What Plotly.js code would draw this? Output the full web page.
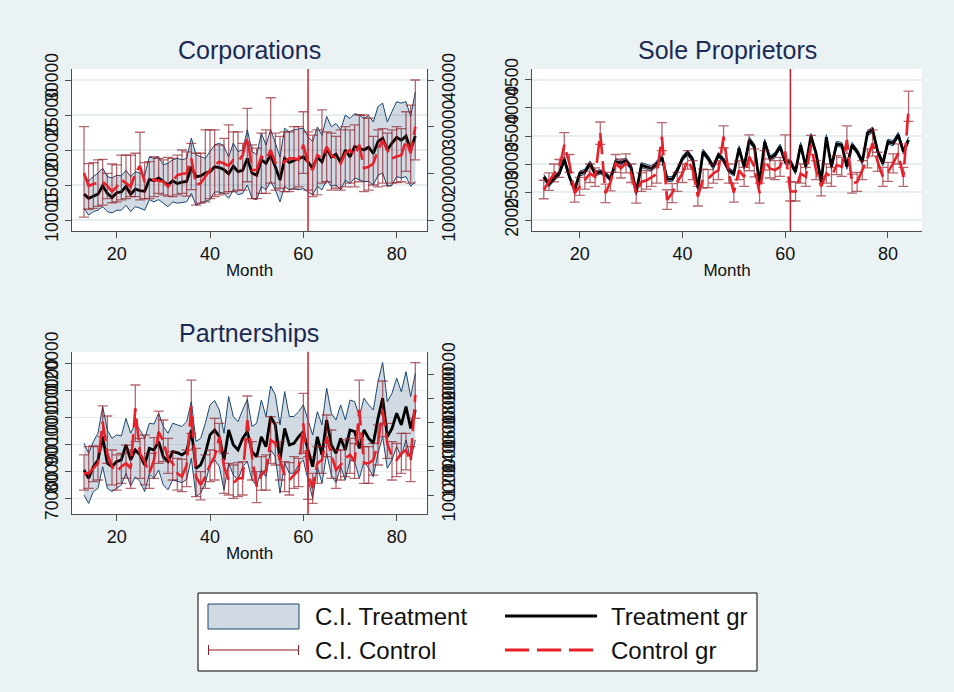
<!DOCTYPE html>
<html><head><meta charset="utf-8">
<script src="https://cdn.plot.ly/plotly-3.0.1.min.js"></script>
<style>html,body{margin:0;padding:0;background:#EAF2F3;}#chart{width:954px;height:692px;}</style>
</head><body><div id="chart"></div>
<script>
// ---------- DATA ----------
const months = [13,14,15,16,17,18,19,20,21,22,23,24,
  25,26,27,28,29,30,31,32,33,34,35,36,
  37,38,39,40,41,42,43,44,45,46,47,48,
  49,50,51,52,53,54,55,56,57,58,59,60,
  61,62,63,64,65,66,67,68,69,70,71,72,
  73,74,75,76,77,78,79,80,81,82,83,84];
const xTicks = [20,40,60,80];
const treatmentStart = 61;

// Corporations (treatment on left axis, control on right axis)
const corpTreat = [13700,13100,13400,13700,14900,13800,13200,13900,14000,14800,13700,14400,
  14200,14100,15800,15600,16000,15500,15000,15600,15200,15400,15500,17600,
  16200,16300,16700,16900,17600,17500,17200,16600,17700,16900,17100,18800,
  16700,16400,18600,18100,19300,17600,15700,18800,18200,18500,18700,19000,
  18300,17400,19000,18300,20200,19000,19400,18200,20000,19000,20500,20200,
  20000,20400,19500,21200,21700,20000,21000,21800,21400,22000,20000,22000];
const corpTreatHi = [16400,15600,16200,16700,17400,16200,16000,16400,16300,17100,16200,16900,
  16700,16400,19000,18800,19000,17900,18100,18600,18800,18600,18800,21700,
  19300,19000,18800,19800,20700,21000,20500,19000,21000,19800,20000,22900,
  19800,19300,22400,20700,22900,21000,19000,23100,22600,22900,23000,23100,
  21900,21200,23300,22100,24800,23300,23800,22900,25000,24500,25200,25000,
  24500,24900,24000,26200,26700,24000,25500,26900,26700,26900,24800,28300];
const corpTreatLo = [11700,10700,11200,11400,11900,11200,11000,11400,11400,12100,11200,11900,
  11700,11400,12900,12600,12900,12400,11900,12600,12400,12500,12600,13800,
  12100,12400,12600,12900,14000,14000,13800,13100,14300,13600,13800,15000,
  13100,12900,14800,14300,15500,14300,12600,14800,14300,14500,14300,14500,
  14000,13600,14800,14300,15700,14800,15000,14300,15700,15200,16000,15700,
  15500,15500,15000,16400,16700,14800,15000,16200,16000,16200,14800,15500];
const corpCtrl = [20100,17300,17700,17900,18200,17300,16100,17100,18600,17900,17100,20000,
  21600,18200,18600,18600,18400,18200,17100,18400,19600,19900,20000,23200,
  17500,17900,19300,20700,21800,22500,22100,21600,22900,22500,23900,27900,
  20700,20700,23600,22900,25000,22300,21800,22500,23200,23200,22900,26100,
  22100,20700,23900,23200,25700,23900,23200,22100,24300,25000,23900,26100,
  21100,21400,22100,25000,27100,25000,23200,23600,23900,27100,24300,30000];
const corpCtrlHi = [30000,22100,22300,22900,23000,20000,22000,21800,23900,23900,23900,24300,
  28800,22300,22500,23600,23200,22900,23400,23200,23900,25000,24600,26400,
  24300,24300,29300,29300,29300,26100,27500,30400,28900,28900,26400,33900,
  26100,25400,28600,29300,36200,28600,27900,28900,28900,30000,30000,33200,
  28900,28200,29300,33600,28900,28600,27900,29300,30000,29300,30400,32500,
  32500,31800,27900,29300,29600,28600,29300,30000,29600,33200,34600,40000];
const corpCtrlLo = [10600,12300,12500,12900,13200,14600,13700,13900,14300,14600,15000,15000,
  14300,14600,14600,15000,15700,15400,15100,15000,15400,15700,15100,16500,
  13200,13600,13900,14600,15000,15400,15700,16100,16100,16400,16400,18200,
  14600,14600,15700,15700,17900,16400,16800,16100,16100,16600,17100,20000,
  16400,15000,15400,17900,18200,16400,16800,16400,17100,17900,17100,18200,
  16100,16400,17500,17100,17900,17300,17900,18000,18200,20400,17900,22900];
const corpLeftTicks = [10000,15000,20000,25000,30000];
const corpRightTicks = [10000,20000,30000,40000];

// Sole Proprietors
const soleTreat = [2770,2640,2740,2830,3080,2770,2540,2830,2860,3010,2830,2860,
  2820,2730,3040,3020,3060,2940,2490,2980,2950,2920,3010,3120,
  2730,2730,2890,3100,3200,3080,2570,3220,3100,2950,3160,3070,
  2890,2830,3280,2950,3430,3310,2650,3400,3100,3160,3310,3040,
  3040,2860,3340,2950,3500,3190,2680,3480,2950,3360,3340,2950,
  3340,3220,3040,3550,3610,3220,3010,3400,3370,3520,3220,3430];
const soleTreatHi = [2815,2685,2785,2875,3130,2815,2585,2875,2905,3055,2875,2900,
  2865,2775,3085,3065,3105,2985,2535,3025,2995,2965,3055,3170,
  2775,2775,2935,3145,3245,3125,2615,3265,3145,2995,3205,3115,
  2935,2875,3325,2995,3480,3355,2695,3445,3145,3205,3355,3085,
  3085,2905,3385,2995,3545,3235,2725,3525,2995,3405,3385,2995,
  3385,3265,3085,3595,3660,3265,3055,3445,3415,3565,3265,3480];
const soleTreatLo = [2725,2595,2695,2785,3030,2725,2495,2785,2815,2965,2785,2820,
  2775,2685,2995,2975,3015,2895,2445,2935,2905,2875,2965,3070,
  2685,2685,2845,3055,3155,3035,2525,3175,3055,2905,3115,3025,
  2845,2785,3235,2905,3380,3265,2605,3355,3055,3115,3265,2995,
  2995,2815,3295,2905,3455,3145,2635,3435,2905,3315,3295,2905,
  3295,3175,2995,3505,3560,3175,2965,3355,3325,3475,3175,3380];
const soleCtrl = [2540,2680,2830,2920,3340,3010,2480,2600,2710,2830,2770,3550,
  2480,2680,3010,2920,3010,2830,2480,2680,2710,2770,2820,3490,
  2360,2480,2680,2830,3070,2890,2420,2740,2740,2830,2890,3490,
  2830,2490,2890,2770,3130,2950,2480,3070,2920,2890,2950,3220,
  2510,2510,2830,2770,3340,2890,2600,2830,2770,2980,2950,3430,
  2650,2680,2890,3100,3370,3040,2770,2860,3010,3190,2770,3990];
const soleCtrlHi = [2710,2840,3000,3080,3560,3170,2640,2760,2870,3000,2930,3750,
  2640,2850,3170,3090,3180,3000,2640,2840,2880,2930,2990,3740,
  2540,2650,2850,3000,3240,3060,2600,2910,2900,3000,3060,3680,
  3000,2660,3060,2940,3520,3270,2660,3240,3090,3060,3120,3520,
  2680,2680,3000,2940,3510,3060,2770,3000,2940,3150,3120,3680,
  2820,2850,3060,3270,3610,3210,2940,3030,3180,3360,2940,4300];
const soleCtrlLo = [2380,2530,2680,2760,3110,2850,2320,2440,2550,2670,2600,3350,
  2310,2520,2850,2750,2840,2670,2300,2510,2550,2600,2660,3240,
  2190,2310,2510,2670,2910,2720,2250,2570,2580,2660,2720,3290,
  2660,2320,2720,2600,2880,2770,2300,2890,2750,2720,2780,3060,
  2340,2340,2660,2600,3170,2720,2430,2660,2600,2810,2780,3190,
  2480,2510,2720,2930,3140,2870,2600,2690,2840,3000,2600,3760];
const soleTicks = [2000,2500,3000,3500,4000,4500];

// Partnerships (treatment on left axis, control on right axis)
const partTreat = [80500,77400,81700,84200,92800,83000,81700,83600,84200,89800,84200,87900,
  86100,82400,88500,87900,91000,85400,83600,87300,86900,86100,87300,95300,
  81100,82400,86700,93500,95300,92800,84200,95300,89800,87900,92200,94700,
  87300,85400,92800,89100,100300,97200,84200,95900,89800,90400,92800,94700,
  87900,81700,92800,86100,99000,89800,86700,92200,87900,95300,94700,88500,
  95300,92200,90400,99600,107100,92800,95900,101500,97200,104000,95900,102700];
const partTreatHi = [90400,86700,91000,94100,104000,95300,92200,93500,93100,99600,94100,97800,
  95300,92200,97800,97500,101500,96600,94100,97800,97200,96600,98400,105800,
  91000,92200,97800,104600,106200,102700,94100,107700,100300,98400,102700,106700,
  96600,97800,106400,100300,111600,108300,97200,109500,100300,100300,102100,104600,
  99000,93500,102100,97200,110800,101500,99000,104600,99000,106400,105800,100300,
  107100,104600,102700,113200,120300,105800,108900,114500,109500,116900,107700,116300];
const partTreatLo = [71200,68100,72500,73700,81700,73700,72500,73700,74900,79300,74600,78000,
  76200,72500,79000,77400,80500,74900,73100,76800,76200,75800,77000,84800,
  70600,71900,75600,82400,84200,81700,73100,83000,78600,76800,81700,83600,
  76800,74600,80500,78000,87900,85400,71900,83000,79300,79300,82400,84200,
  76800,70000,81700,75600,86700,78600,75800,81700,76800,84200,83600,77400,
  83600,81100,78000,86700,92800,81100,84200,89100,85400,91600,84200,91600];
const partCtrl = [117900,117900,122000,126200,160600,134400,123400,119300,123400,126200,122000,171600,
  134400,127600,117900,128900,152300,144100,130300,126200,117900,115200,124800,173000,
  115200,108300,115200,124800,131700,148200,123400,112400,109600,113800,113800,162000,
  131700,106900,116500,120700,145500,142700,128900,116500,112400,116500,120700,159200,
  117900,105500,126200,128900,148200,133100,120700,124800,130300,133100,127600,170300,
  126200,126200,128900,142700,170300,142700,131700,128900,134400,137200,127600,182700];
const partCtrlHi = [133100,139900,140500,139900,173600,165300,137200,133100,134400,141300,137200,190900,
  146800,149600,134400,147400,169400,162000,146800,135800,130300,129500,137200,195000,
  138600,119300,133100,137200,163400,159200,134400,126200,124800,126700,127600,181800,
  144100,119300,131700,133100,164700,159800,144100,127600,126700,131700,130300,184000,
  131700,117900,139900,139900,166100,153700,137200,137200,145500,146800,142700,195000,
  139900,139900,142700,157900,194200,159200,144100,142700,151000,151000,139900,209400];
const partCtrlLo = [104100,105500,111000,112400,148200,126200,108300,104100,109600,113800,105500,144100,
  113800,108300,105500,113800,126200,127600,117900,112400,104100,102800,106900,151000,
  98600,95900,105500,111000,112400,135800,101400,100000,97200,98600,100000,145500,
  112400,93700,104100,104100,126200,124800,112400,102800,100000,105500,106900,134400,
  96400,93100,109600,117900,131700,113800,105500,112400,115200,117900,113800,145500,
  109600,109600,116500,124800,148200,130300,112400,115200,117900,120700,111000,163400];
const partLeftTicks = [70000,80000,90000,100000,110000,120000];
const partRightTicks = [100000,120000,140000,160000,180000,200000];

const panelTitles = ['Corporations','Sole Proprietors','Partnerships'];
const legendLabels = ['C.I. Treatment','C.I. Control','Treatment gr','Control gr'];

// ---------- STYLE ----------
const W = 954, H = 692;
const px = x => x / W, py = y => 1 - y / H;
const FONT = 'Liberation Sans, Arial, Helvetica, sans-serif';
const NAVY = '#1A476F', FILL = 'rgba(26,71,111,0.2)';
const CAPC = 'rgba(140,25,35,0.65)', REDL = '#E8202A';
const AX = '#4d4d4d', GRID = '#E6EEF1', TXT = '#111111', TITLEC = '#1B2A55';
const DASH = '22px,7px';

function panelTraces(xa, ya, yc, lo, hi, tr, ct, cLo, cHi) {
  return [
    {x: months, y: hi, xaxis: xa, yaxis: ya, mode: 'lines', line: {color: NAVY, width: 1}, hoverinfo: 'skip'},
    {x: months, y: lo, xaxis: xa, yaxis: ya, mode: 'lines', line: {color: NAVY, width: 1}, fill: 'tonexty', fillcolor: FILL, hoverinfo: 'skip'},
    {x: months, y: tr, xaxis: xa, yaxis: ya, mode: 'lines', line: {color: '#000000', width: 2.8}},
    {x: months, y: ct, xaxis: xa, yaxis: yc, mode: 'markers', marker: {size: 1, color: 'rgba(0,0,0,0)'},
      error_y: {type: 'data', symmetric: false, array: cHi.map((v, i) => v - ct[i]), arrayminus: ct.map((v, i) => v - cLo[i]), color: CAPC, thickness: 1.3, width: 5}},
    {x: months, y: ct, xaxis: xa, yaxis: yc, mode: 'lines', line: {color: REDL, width: 2.6, dash: DASH}}
  ];
}

const data = [].concat(
  panelTraces('x', 'y', 'y2', corpTreatLo, corpTreatHi, corpTreat, corpCtrl, corpCtrlLo, corpCtrlHi),
  panelTraces('x2', 'y3', 'y3', soleTreatLo, soleTreatHi, soleTreat, soleCtrl, soleCtrlLo, soleCtrlHi),
  panelTraces('x3', 'y4', 'y5', partTreatLo, partTreatHi, partTreat, partCtrl, partCtrlLo, partCtrlHi)
);

function xAxis(dom, anchor, range) {
  return {domain: dom, anchor: anchor, range: range, tickvals: xTicks, ticktext: xTicks.map(String),
    ticks: 'outside', ticklen: 6, tickcolor: AX, showline: true, linecolor: AX, linewidth: 1.2,
    showgrid: false, zeroline: false, tickfont: {size: 18, color: TXT},
    title: {text: 'Month', font: {size: 17, color: TXT}, standoff: 1}};
}
function yAxis(dom, anchor, range, ticks, extra) {
  return Object.assign({domain: dom, anchor: anchor, range: range, tickvals: ticks, ticktext: ticks.map(String),
    tickangle: -90, ticks: 'outside', ticklen: 6, tickcolor: AX, showline: true, linecolor: AX, linewidth: 1.2,
    showgrid: true, gridcolor: GRID, gridwidth: 1.5, zeroline: false, tickfont: {size: 17.5, color: TXT}}, extra || {});
}

const rowTop = [py(231), py(69)], rowBot = [py(514), py(351.7)];
const colL = [px(72), px(427)], colR = [px(532), px(922)];

const layout = {
  width: W, height: H, margin: {l: 0, r: 0, t: 0, b: 0},
  paper_bgcolor: '#EAF2F3', plot_bgcolor: '#FFFFFF', showlegend: false,
  font: {family: FONT, color: TXT},
  xaxis: xAxis(colL, 'y', [10.43, 86.5]),
  yaxis: yAxis(rowTop, 'x', [8429, 31571], corpLeftTicks),
  yaxis2: yAxis(rowTop, 'x', [7643, 42357], corpRightTicks, {overlaying: 'y', side: 'right', showgrid: false}),
  xaxis2: xAxis(colR, 'y3', [10.71, 86.62]),
  yaxis3: yAxis(rowTop, 'x2', [1804, 4696], soleTicks),
  xaxis3: xAxis(colL, 'y4', [10.43, 86.5]),
  yaxis4: yAxis(rowBot, 'x3', [64185, 124297], partLeftTicks),
  yaxis5: yAxis(rowBot, 'x3', [84298, 218430], partRightTicks, {overlaying: 'y4', side: 'right', showgrid: false}),
  shapes: [
    {type: 'line', xref: 'x', yref: 'y domain', x0: treatmentStart, x1: treatmentStart, y0: 0, y1: 1, line: {color: '#D0202E', width: 1.5}, layer: 'above'},
    {type: 'line', xref: 'x2', yref: 'y3 domain', x0: treatmentStart, x1: treatmentStart, y0: 0, y1: 1, line: {color: '#D0202E', width: 1.5}, layer: 'above'},
    {type: 'line', xref: 'x3', yref: 'y4 domain', x0: treatmentStart, x1: treatmentStart, y0: 0, y1: 1, line: {color: '#D0202E', width: 1.5}, layer: 'above'},
    // legend box
    {type: 'rect', xref: 'paper', yref: 'paper', x0: px(198), x1: px(757), y0: py(671), y1: py(593), line: {color: '#000', width: 1}, fillcolor: '#FFFFFF'},
    {type: 'rect', xref: 'paper', yref: 'paper', x0: px(208), x1: px(299), y0: py(629), y1: py(604), line: {color: NAVY, width: 1}, fillcolor: '#D1DAE2'},
    {type: 'line', xref: 'paper', yref: 'paper', x0: px(208), x1: px(299), y0: py(650), y1: py(650), line: {color: '#8C1923', width: 1}},
    {type: 'line', xref: 'paper', yref: 'paper', x0: px(208.5), x1: px(208.5), y0: py(645), y1: py(655), line: {color: '#8C1923', width: 1}},
    {type: 'line', xref: 'paper', yref: 'paper', x0: px(298.5), x1: px(298.5), y0: py(645), y1: py(655), line: {color: '#8C1923', width: 1}},
    {type: 'line', xref: 'paper', yref: 'paper', x0: px(505), x1: px(597), y0: py(616), y1: py(616), line: {color: '#000', width: 3}},
    {type: 'line', xref: 'paper', yref: 'paper', x0: px(505), x1: px(597), y0: py(650), y1: py(650), line: {color: REDL, width: 3, dash: '24px,8px'}}
  ],
  annotations: [
    {text: panelTitles[0], xref: 'paper', yref: 'paper', x: px(249.5), y: py(50), xanchor: 'center', yanchor: 'middle', showarrow: false, font: {size: 25, color: TITLEC}},
    {text: panelTitles[1], xref: 'paper', yref: 'paper', x: px(727), y: py(50), xanchor: 'center', yanchor: 'middle', showarrow: false, font: {size: 25, color: TITLEC}},
    {text: panelTitles[2], xref: 'paper', yref: 'paper', x: px(249.5), y: py(333), xanchor: 'center', yanchor: 'middle', showarrow: false, font: {size: 25, color: TITLEC}},
    {text: legendLabels[0], xref: 'paper', yref: 'paper', x: px(313), y: py(616), xanchor: 'left', yanchor: 'middle', showarrow: false, font: {size: 24, color: TXT}},
    {text: legendLabels[1], xref: 'paper', yref: 'paper', x: px(313), y: py(650), xanchor: 'left', yanchor: 'middle', showarrow: false, font: {size: 24, color: TXT}},
    {text: legendLabels[2], xref: 'paper', yref: 'paper', x: px(609), y: py(616), xanchor: 'left', yanchor: 'middle', showarrow: false, font: {size: 24, color: TXT}},
    {text: legendLabels[3], xref: 'paper', yref: 'paper', x: px(609), y: py(650), xanchor: 'left', yanchor: 'middle', showarrow: false, font: {size: 24, color: TXT}}
  ]
};

Plotly.newPlot('chart', data, layout, {staticPlot: true, displayModeBar: false});
</script>
</body></html>
